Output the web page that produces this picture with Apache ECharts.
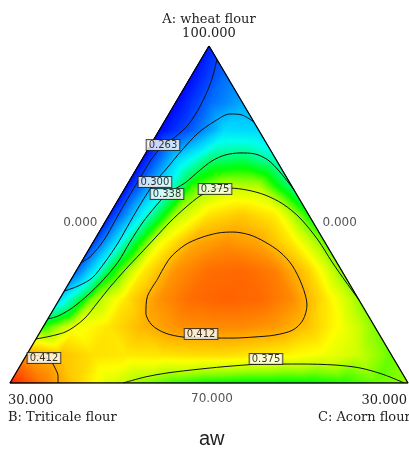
<!DOCTYPE html>
<html>
<head>
<meta charset="utf-8">
<script src="https://cdn.jsdelivr.net/npm/echarts@6/dist/echarts.min.js"></script>
<style>
html, body { margin: 0; padding: 0; background: #fff; }
#chart { width: 409px; height: 449px; }
</style>
</head>
<body>
<div id="chart"></div>
<script>
// mixture space: A wheat flour 70-100, B triticale 0-30, C acorn 0-30 (A+B+C = 100)
const RANGE = 30
const STEP = 2.5

// aw; row i has A = 70 + 2.5*i, entries go C = 0, 2.5, 5 ...
const awRows = [
  [0.450, 0.425, 0.400, 0.380, 0.366, 0.357, 0.352, 0.350, 0.350, 0.351, 0.355, 0.362, 0.368],
  [0.416, 0.405, 0.396, 0.394, 0.395, 0.397, 0.397, 0.394, 0.390, 0.385, 0.376, 0.362],
  [0.355, 0.385, 0.395, 0.408, 0.418, 0.420, 0.420, 0.416, 0.404, 0.386, 0.365],
  [0.305, 0.365, 0.395, 0.418, 0.429, 0.432, 0.430, 0.420, 0.395, 0.368],
  [0.268, 0.345, 0.392, 0.418, 0.428, 0.430, 0.423, 0.400, 0.365],
  [0.255, 0.330, 0.385, 0.411, 0.418, 0.413, 0.394, 0.362],
  [0.245, 0.315, 0.370, 0.395, 0.402, 0.392, 0.353],
  [0.240, 0.303, 0.357, 0.374, 0.372, 0.337],
  [0.238, 0.300, 0.335, 0.340, 0.326],
  [0.237, 0.265, 0.305, 0.303],
  [0.236, 0.268, 0.287],
  [0.238, 0.270],
  [0.245]
]

// contour lines, points as [B, C]
const c263 = [[0,1.2],[1.45,1.75],[3.2,2.0],[5.0,1.95],[6.6,1.5],[7.9,0.95],[9.45,0.7],[11.1,0.67],[12.9,0.66],[14.7,0.69],[16.55,0.72],[18.35,0.42],[19.3,0]]
const c300 = [[0,6.77],[0.58,5.56],[1.44,4.61],[2.89,3.79],[4.7,3.05],[6.66,2.6],[8.6,2.27],[10.13,1.98],[11.83,1.88],[13.79,1.88],[15.63,1.91],[17.45,1.78],[19.15,1.51],[20.56,0.81],[21.81,0]]
const c338 = [[0,12.82],[0.26,10.96],[0.63,9.52],[1.34,8.27],[2.42,7.1],[3.65,6.06],[4.89,5.34],[6.31,4.81],[7.9,4.29],[9.75,3.42],[11.23,3.1],[12.81,2.86],[14.68,2.77],[16.47,2.76],[18.41,2.43],[20.21,1.96],[21.99,1.34],[23.4,0.64],[24.3,0]]
const c375Upper = [[0,22.61],[0.18,20.83],[0.34,18.89],[0.42,16.85],[0.8,14.51],[1.46,12.61],[2.41,10.85],[3.55,9.27],[4.74,7.91],[5.91,6.82],[7.35,6.0],[9.02,5.4],[10.78,4.89],[12.61,4.48],[14.46,4.06],[16.3,3.64],[18.19,3.27],[19.76,3.03],[21.57,2.73],[23.59,1.88],[26.08,0]]
const c375Lower = [[21.48,8.52],[19.56,9.91],[17.72,11.39],[15.06,13.7],[12.43,16.05],[9.86,18.45],[7.3,21.01],[4.7,23.7],[2.95,25.71],[1.56,27.64],[0.52,29.31],[0.3,29.7]]
const c412Loop = [[14.34,6.5],[12.38,6.5],[10.66,7.05],[9.22,7.87],[7.65,9.0],[6.47,10.09],[5.32,11.5],[4.5,12.95],[3.82,14.52],[3.5,16.0],[3.63,17.65],[4.14,18.91],[5.11,19.28],[6.31,18.97],[7.89,17.84],[9.48,16.42],[11.19,14.81],[12.92,13.07],[14.91,11.0],[16.09,9.46],[16.72,8.12],[16.64,7.13],[15.77,6.5],[14.34,6.5]]
const c412Corner = [[27.51,0],[26.54,1.06],[25.96,1.99],[25.94,2.72],[26.07,3.31],[26.38,3.62]]

// contour labels: [level, B, C]
const contourTags = [[0.263,7.88,0.94],[0.300,10.13,1.98],[0.338,9.75,3.42],[0.375,5.91,6.82],[0.412,13.42,12.22],[0.412,26.33,1.45],[0.375,9.64,18.23]]

// corners as [B, C]
const cornerA = [0, 0], cornerB = [30, 0], cornerC = [0, 30]

// colour ramp
const rampValues = [0.225, 0.240, 0.263, 0.285, 0.300, 0.318, 0.338, 0.352, 0.365, 0.375, 0.388, 0.400, 0.412, 0.425, 0.435, 0.450]
const rampColors = ['#0000e0','#0010ff','#0058ff','#00a0ff','#00d0ff','#00fff0','#00ff70','#00ff00','#80ff00','#c8ff00','#ffff00','#ffd200','#ffa800','#ff7800','#ff5800','#ff2000']

const toXY = (b, c) => { const a = 1 - (b + c) / RANGE; return [c / RANGE + a / 2, a] }
const hexRgb = h => [1, 3, 5].map(k => parseInt(h.slice(k, k + 2), 16))
const rampRgb = rampColors.map(hexRgb)

const colorAt = v => {
  if (v <= rampValues[0]) return rampColors[0]
  const last = rampValues.length - 1
  if (v >= rampValues[last]) return rampColors[last]
  let k = 0
  while (v > rampValues[k + 1]) k++
  const t = (v - rampValues[k]) / (rampValues[k + 1] - rampValues[k])
  const c = rampRgb[k].map((x, m) => Math.round(x + (rampRgb[k + 1][m] - x) * t))
  return `rgb(${c[0]},${c[1]},${c[2]})`
}

// fill of one triangle: gradient laid along the slope of the plane through its corners
const shade = (p, v) => {
  const e1x = p[1][0] - p[0][0], e1y = p[1][1] - p[0][1]
  const e2x = p[2][0] - p[0][0], e2y = p[2][1] - p[0][1]
  const d1 = v[1] - v[0], d2 = v[2] - v[0]
  const det = e1x * e2y - e1y * e2x
  const lo = Math.min(...v), hi = Math.max(...v)
  if (hi - lo < 1e-5 || !det) return colorAt(lo)
  const gx = (d1 * e2y - d2 * e1y) / det, gy = (d2 * e1x - d1 * e2x) / det
  const t = (hi - lo) / (gx * gx + gy * gy)
  const k = v.indexOf(lo)
  const n = Math.max(2, Math.ceil((hi - lo) / 0.003))
  const stops = []
  for (let s = 0; s <= n; s++) stops.push({ offset: s / n, color: colorAt(lo + (hi - lo) * s / n) })
  return new echarts.graphic.LinearGradient(p[k][0], p[k][1], p[k][0] + gx * t, p[k][1] + gy * t, stops, true)
}

const node = (i, j) => {
  const c = j * STEP, b = RANGE - i * STEP - c
  return [...toXY(b, c), awRows[i][j]]
}
const n = awRows.length - 1
const cells = []
for (let i = 0; i < n; i++) {
  for (let j = 0; j < n - i; j++) {
    cells.push([...node(i, j), ...node(i, j + 1), ...node(i + 1, j)])
    if (j < n - i - 1) cells.push([...node(i, j + 1), ...node(i + 1, j + 1), ...node(i + 1, j)])
  }
}

const renderCell = (params, api) => {
  const pts = [0, 1, 2].map(k => api.coord([api.value(3 * k), api.value(3 * k + 1)]))
  const vals = [0, 1, 2].map(k => api.value(3 * k + 2))
  const fill = shade(pts, vals)
  return { type: 'polygon', shape: { points: pts }, style: { fill, stroke: fill, lineWidth: 0.8 } }
}

const contourLine = pts => ({
  type: 'line', data: pts.map(p => toXY(p[0], p[1])), symbol: 'none', smooth: 0.3, silent: true, z: 3,
  lineStyle: { color: '#111', width: 1 }
})

const chart = echarts.init(document.getElementById('chart'))
chart.setOption({
  animation: false,
  title: { text: 'aw', left: 194, top: 424, textStyle: { fontFamily: 'Liberation Sans', fontSize: 20, fontWeight: 'normal', color: '#222' } },
  grid: { left: 10, right: 1, top: 46, bottom: 66 },
  xAxis: { type: 'value', min: 0, max: 1, show: false },
  yAxis: { type: 'value', min: 0, max: 1, show: false },
  series: [
    { type: 'custom', coordinateSystem: 'cartesian2d', renderItem: renderCell, data: cells, silent: true, z: 1,
      encode: { x: [0, 3, 6], y: [1, 4, 7] } },
    ...[c263, c300, c338, c375Upper, c375Lower, c412Loop, c412Corner].map(contourLine),
    { type: 'line', data: [cornerA, cornerB, cornerC, cornerA].map(p => toXY(p[0], p[1])), symbol: 'none', silent: true, z: 4,
      lineStyle: { color: '#000', width: 1.3 } },
    { type: 'scatter', data: contourTags.map(t => [...toXY(t[1], t[2]), t[0]]), symbolSize: 1, silent: true, z: 5,
      itemStyle: { color: 'transparent' },
      label: { show: true, position: 'inside', formatter: p => Number(p.value[2]).toFixed(3),
        fontFamily: 'DejaVu Sans', fontSize: 10, color: '#000', backgroundColor: '#fff',
        borderColor: '#222', borderWidth: 1, padding: [1, 2, 0, 2], lineHeight: 9 } }
  ]
})

// axis titles and range labels hung off the triangle corners
const px = p => chart.convertToPixel({ gridIndex: 0 }, toXY(p[0], p[1]))
const pA = px(cornerA), pB = px(cornerB), pC = px(cornerC)
const serif = { fontFamily: 'DejaVu Serif', fontSize: 13, fill: '#222' }
const sans = { fontFamily: 'DejaVu Sans', fontSize: 12, fill: '#555' }
const txt = (text, x, y, align, font) => ({ type: 'text', x, y, style: { text, align, verticalAlign: 'middle', ...font } })
chart.setOption({
  graphic: [
    txt('A: wheat flour', pA[0], pA[1] - 26, 'center', serif),
    txt('100.000', pA[0], pA[1] - 12, 'center', serif),
    txt('0.000', (pA[0] + pB[0]) / 2 - 12, (pA[1] + pB[1]) / 2 + 8, 'right', sans),
    txt('0.000', (pA[0] + pC[0]) / 2 + 14, (pA[1] + pC[1]) / 2 + 8, 'left', sans),
    txt('30.000', pB[0] - 2, pB[1] + 18, 'left', serif),
    txt('B: Triticale flour', pB[0] - 2, pB[1] + 35, 'left', serif),
    txt('70.000', (pB[0] + pC[0]) / 2 + 3, pB[1] + 16, 'center', sans),
    txt('30.000', pC[0] - 1, pC[1] + 18, 'right', serif),
    txt('C: Acorn flour', pC[0] - 90, pC[1] + 35, 'left', serif)
  ]
})
</script>
</body>
</html>
